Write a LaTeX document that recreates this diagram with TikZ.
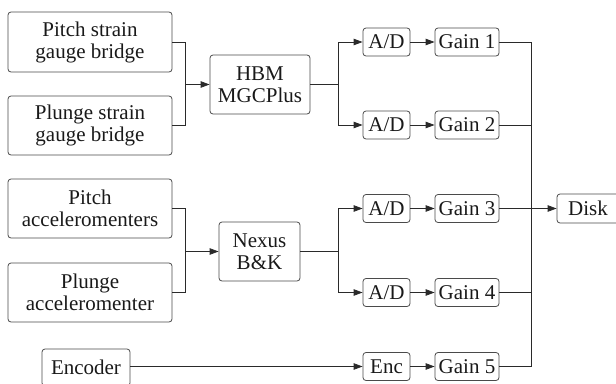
\documentclass[tikz,border=0pt]{standalone}
\usepackage{fontspec}
\setmainfont{Liberation Serif}
\usetikzlibrary{arrows.meta}
\definecolor{boxc}{HTML}{4A4A4A}
\definecolor{linec}{HTML}{2A2A2A}
\tikzset{
  blk/.style={draw=boxc, line width=0.8pt, rounded corners=3pt, inner sep=0pt, align=center,
    font=\fontsize{21}{22}\selectfont, text=black!90},
  conn/.style={draw=linec, line width=0.8pt},
  arr/.style={conn, -{Triangle[length=9pt,width=6.5pt]}},
}
\begin{document}
\begin{tikzpicture}[x=1pt,y=-1pt]
\useasboundingbox (0,0) rectangle (616,383);
% left sources
\node[blk, minimum width=164pt, minimum height=60pt] (ps) at (90,42) {Pitch strain\\gauge bridge};
\node[blk, minimum width=164pt, minimum height=59pt] (pl) at (90,125.5) {Plunge strain\\gauge bridge};
\node[blk, minimum width=164pt, minimum height=59pt] (pa) at (90,208.5) {Pitch\\accelerom\-enters};
\node[blk, minimum width=164pt, minimum height=59pt] (pu) at (90,292.5) {Plunge\\accelerom\-enter};
\node[blk, minimum width=88pt, minimum height=37pt] (en) at (86,367.5) {Encoder};
% conditioners
\node[blk, minimum width=100pt, minimum height=59pt] (hbm) at (260,84.5) {HBM\\MGCPlus};
\node[blk, minimum width=81pt, minimum height=59pt] (nx) at (259.5,251.5) {Nexus\\B\&K};
% A/D and gains
\node[blk, minimum width=47pt, minimum height=28pt] (ad1) at (386.5,42) {A/D};
\node[blk, minimum width=47pt, minimum height=28pt] (ad2) at (386.5,125) {A/D};
\node[blk, minimum width=47pt, minimum height=28pt] (ad3) at (386.5,208.5) {A/D};
\node[blk, minimum width=47pt, minimum height=28pt] (ad4) at (386.5,292.5) {A/D};
\node[blk, minimum width=47pt, minimum height=28pt] (ec) at (386.5,366.5) {Enc};
\node[blk, minimum width=64pt, minimum height=28pt] (g1) at (467,42) {Gain 1};
\node[blk, minimum width=64pt, minimum height=28pt] (g2) at (467,125) {Gain 2};
\node[blk, minimum width=64pt, minimum height=28pt] (g3) at (467,208.5) {Gain 3};
\node[blk, minimum width=64pt, minimum height=28pt] (g4) at (467,292.5) {Gain 4};
\node[blk, minimum width=64pt, minimum height=28pt] (g5) at (467,366.5) {Gain 5};
\node[blk, minimum width=62pt, minimum height=29pt] (dk) at (588,208.5) {Disk};
% junction coordinates
\coordinate (j1) at (185,84.5);
\coordinate (j2) at (185,251.5);
\coordinate (s1) at (338,84.5);
\coordinate (s2) at (338,251.5);
\coordinate (c3) at (531,208.5);
% connectors
\draw[conn] (ps.east) -| (j1);
\draw[conn] (pl.east) -| (j1);
\draw[arr] (j1) -- (hbm.west);
\draw[conn] (pa.east) -| (j2);
\draw[conn] (pu.east) -| (j2);
\draw[arr] (j2) -- (nx.west);
\draw[conn] (hbm.east) -- (s1);
\draw[arr] (s1) |- (ad1.west);
\draw[arr] (s1) |- (ad2.west);
\draw[conn] (nx.east) -- (s2);
\draw[arr] (s2) |- (ad3.west);
\draw[arr] (s2) |- (ad4.west);
\draw[arr] (en.east |- ec.west) -- (ec.west);
\draw[arr] (ad1) -- (g1);
\draw[arr] (ad2) -- (g2);
\draw[arr] (ad3) -- (g3);
\draw[arr] (ad4) -- (g4);
\draw[arr] (ec) -- (g5);
\draw[conn] (g1.east) -| (c3);
\draw[conn] (g2.east) -| (c3);
\draw[conn] (g4.east) -| (c3);
\draw[conn] (g5.east) -| (c3);
\draw[arr] (g3.east) -- (dk.west);
\end{tikzpicture}
\end{document}
